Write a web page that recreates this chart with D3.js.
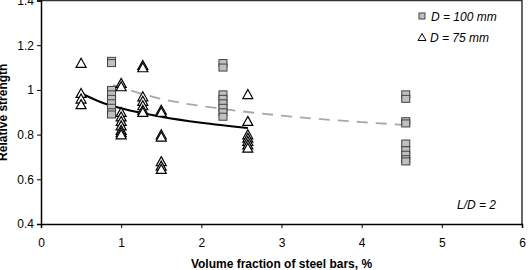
<!DOCTYPE html>
<html>
<head>
<meta charset="utf-8">
<script src="https://cdn.jsdelivr.net/npm/d3@7"></script>
<style>
  body { margin: 0; background: #fff; }
  text { font-family: "Liberation Sans", Arial, sans-serif; }
</style>
</head>
<body>
<svg width="530" height="270"></svg>
<script>
'use strict';

// D = 100 mm (squares): [volume fraction, relative strength]
const d100 = [
  [0.88, 1.13], [0.88, 1.12],
  [0.88, 1.00], [0.88, 0.98], [0.88, 0.96], [0.88, 0.94], [0.88, 0.92], [0.88, 0.90], [0.88, 0.89],
  [2.27, 1.12], [2.27, 1.10],
  [2.27, 0.98], [2.27, 0.96], [2.27, 0.94], [2.27, 0.92], [2.27, 0.90], [2.27, 0.88],
  [4.55, 0.98], [4.55, 0.96],
  [4.55, 0.86], [4.55, 0.85],
  [4.55, 0.76], [4.55, 0.73], [4.55, 0.71], [4.55, 0.69], [4.55, 0.68]
]

// D = 75 mm (triangles)
const d75 = [
  [0.5, 1.12], [0.5, 0.985], [0.5, 0.96], [0.5, 0.935],
  [1.0, 1.03], [1.0, 1.015],
  [1.0, 0.90], [1.0, 0.88], [1.0, 0.86], [1.0, 0.84], [1.0, 0.82], [1.0, 0.81], [1.0, 0.80],
  [1.27, 1.11], [1.27, 1.10],
  [1.27, 0.97], [1.27, 0.95], [1.27, 0.93], [1.27, 0.91], [1.27, 0.90],
  [1.5, 0.91], [1.5, 0.90], [1.5, 0.80], [1.5, 0.79], [1.5, 0.68], [1.5, 0.66], [1.5, 0.645],
  [2.58, 0.98], [2.58, 0.86],
  [2.58, 0.80], [2.58, 0.785], [2.58, 0.77], [2.58, 0.755], [2.58, 0.74]
]

// trend lines
const trend75 = [[0.5, 0.985], [0.75, 0.945], [1.0, 0.918], [1.5, 0.880], [2.0, 0.853], [2.58, 0.830]]
const trend100 = [[0.9, 1.022], [1.5, 0.96], [2.27, 0.915], [3.0, 0.885], [3.5, 0.869], [4.0, 0.856], [4.55, 0.843]]

const xTicks = [0, 1, 2, 3, 4, 5, 6]
const yTicks = [0.4, 0.6, 0.8, 1, 1.2, 1.4]

const svg = d3.select('svg')
const m = { left: 41, right: 522, top: 0.5, bottom: 224 }

const x = d3.scaleLinear().domain([0, 6]).range([m.left, m.right])
const y = d3.scaleLinear().domain([0.4, 1.4]).range([m.bottom, m.top])

// frame
svg.append('path')
  .attr('d', `M${m.left},${m.top}H${m.right}V${m.bottom}`)
  .style('fill', 'none')
  .style('stroke', '#333')
  .style('stroke-width', 1.5)

const xAxis = svg.append('g')
  .attr('transform', `translate(0,${m.bottom})`)
  .call(d3.axisBottom(x).tickValues(xTicks).tickSize(4).tickPadding(10).tickFormat(d3.format('d')))
xAxis.select('.domain').style('stroke', '#000').style('stroke-width', 1.5)
xAxis.selectAll('text').style('font-size', '12px').style('fill', '#000')

const yAxis = svg.append('g')
  .attr('transform', `translate(${m.left},0)`)
  .call(d3.axisLeft(y).tickValues(yTicks).tickSize(4).tickPadding(3).tickFormat((d) => String(+d.toFixed(1))))
yAxis.select('.domain').style('stroke', '#000').style('stroke-width', 1.5)
yAxis.selectAll('text').style('font-size', '12px').style('fill', '#000')

const line = d3.line().x((d) => x(d[0])).y((d) => y(d[1])).curve(d3.curveMonotoneX)

svg.append('path')
  .datum(trend100)
  .attr('d', line)
  .style('fill', 'none')
  .style('stroke', '#a8a8a8')
  .style('stroke-width', 1.8)
  .style('stroke-dasharray', '11,8')

svg.append('path')
  .datum(trend75)
  .attr('d', line)
  .style('fill', 'none')
  .style('stroke', '#000')
  .style('stroke-width', 2)

const tri = 'M0,-4.8L5,4.2L-5,4.2Z'

svg.selectAll('rect.d100')
  .data(d100)
  .enter()
  .append('rect')
  .attr('class', 'd100')
  .attr('x', (d) => x(d[0]) - 4)
  .attr('y', (d) => y(d[1]) - 3.5)
  .attr('width', 8)
  .attr('height', 7)
  .style('fill', '#c0c0c0')
  .style('stroke', '#404040')
  .style('stroke-width', 1)

svg.selectAll('path.d75')
  .data(d75)
  .enter()
  .append('path')
  .attr('class', 'd75')
  .attr('d', tri)
  .attr('transform', (d) => `translate(${x(d[0])},${y(d[1])})`)
  .style('fill', '#fff')
  .style('stroke', '#000')
  .style('stroke-width', 1.2)

// legend
svg.append('rect')
  .attr('x', 419).attr('y', 13).attr('width', 6).attr('height', 6)
  .style('fill', '#c0c0c0').style('stroke', '#404040')
svg.append('path')
  .attr('d', 'M0,-3.5L4,3.5L-4,3.5Z')
  .attr('transform', 'translate(422,37)')
  .style('fill', '#fff').style('stroke', '#000')
svg.append('text').attr('x', 431).attr('y', 20.5)
  .style('font-size', '12px').style('font-style', 'italic').text('D = 100 mm')
svg.append('text').attr('x', 430).attr('y', 41.5)
  .style('font-size', '12px').style('font-style', 'italic').text('D = 75 mm')

svg.append('text').attr('x', 457).attr('y', 209)
  .style('font-size', '12px').style('font-style', 'italic').text('L/D = 2')

// axis titles
svg.append('text')
  .attr('x', (m.left + m.right) / 2).attr('y', 268)
  .attr('text-anchor', 'middle')
  .style('font-size', '12px').style('font-weight', 'bold')
  .text('Volume fraction of steel bars, %')

svg.append('text')
  .attr('transform', `translate(7,${(m.top + m.bottom) / 2}) rotate(-90)`)
  .attr('text-anchor', 'middle')
  .style('font-size', '12px').style('font-weight', 'bold')
  .text('Relative strength')
</script>
</body>
</html>
